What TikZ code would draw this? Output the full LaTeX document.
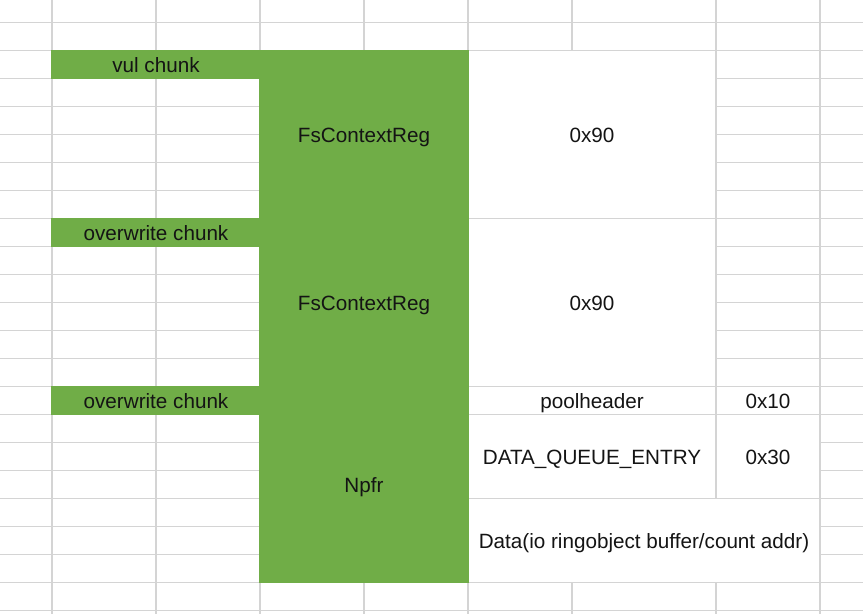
\documentclass[tikz,border=0pt]{standalone}
\usepackage{fontspec}
\setmainfont{Liberation Sans}
\usepackage{tikz}
\usetikzlibrary{positioning,calc}

\definecolor{cellgreen}{RGB}{112,173,71}
\definecolor{gridgray}{RGB}{212,212,212}
\definecolor{celltextcol}{RGB}{20,20,20}

\tikzset{
  gridline/.style={draw=gridgray, line width=0.8pt},
  mergedcell/.style={fill=white, draw=gridgray, line width=0.8pt},
  greencell/.style={fill=cellgreen, draw=cellgreen, line width=0.8pt},
  celltext/.style={text=celltextcol, text height=12.6pt, text depth=0pt, inner sep=0pt}
}

\begin{document}
\begin{tikzpicture}[x=0.75pt, y=-0.75pt, font=\fontsize{15.5}{18}\selectfont]
  \useasboundingbox (0,0) rectangle (863,614);

  % sheet grid
  \foreach \x in {52,156,260,364,468,572,716,820}
    \draw[gridline] (\x,0) -- (\x,614);
  \foreach \k in {0,...,21}
    \draw[gridline] (0,22.3+28*\k) -- (863,22.3+28*\k);

  % merged cells on the right
  \draw[mergedcell] (468,50.3) rectangle (716,218.3);
  \draw[mergedcell] (468,218.3) rectangle (716,386.3);
  \draw[mergedcell] (468,386.3) rectangle (716,414.3);
  \draw[mergedcell] (468,414.3) rectangle (716,498.3);
  \draw[mergedcell] (716,414.3) rectangle (820,498.3);
  \draw[mergedcell] (468,498.3) rectangle (820,582.3);

  % green chunks
  \draw[greencell] (260,50.3) rectangle (468,582.3);
  \draw[greencell] (52,50.3) rectangle (260,78.3);
  \draw[greencell] (52,218.3) rectangle (260,246.3);
  \draw[greencell] (52,386.3) rectangle (260,414.3);

  \node[celltext] (vul) at (156,64.3) {vul chunk};
  \node[celltext] (ow1) at (156,232.3) {overwrite chunk};
  \node[celltext] (ow2) at (156,400.3) {overwrite chunk};

  \node[celltext] (fs1) at (364,134.3) {FsContextReg};
  \node[celltext] (fs2) at (364,302.3) {FsContextReg};
  \node[celltext] (npfr) at (364,484.3) {Npfr};

  \node[celltext] (sz1) at (592,134.3) {0x90};
  \node[celltext] (sz2) at (592,302.3) {0x90};
  \node[celltext] (ph) at (592,400.3) {poolheader};
  \node[celltext] (phsz) at (768,400.3) {0x10};
  \node[celltext] (dqe) at (592,456.3) {DATA\_QUEUE\_ENTRY};
  \node[celltext] (dqesz) at (768,456.3) {0x30};
  \node[celltext] (data) at (644,540.3) {Data(io ringobject buffer/count addr)};
\end{tikzpicture}
\end{document}
